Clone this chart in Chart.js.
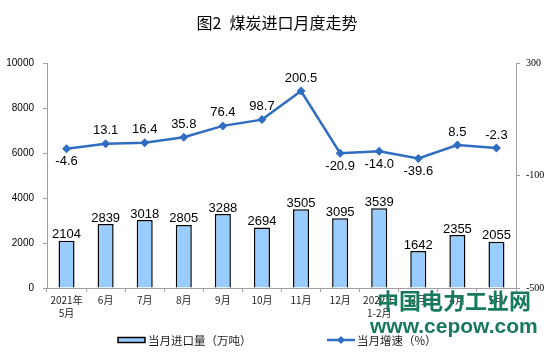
<!DOCTYPE html>
<html><head><meta charset="utf-8">
<script src="https://cdn.jsdelivr.net/npm/chart.js@4/dist/chart.umd.min.js"></script>
<style>html,body{margin:0;padding:0;background:#fff}#wrap{width:554px;height:357px;position:relative}</style>
</head><body><div id="wrap"><canvas id="c" width="554" height="357"></canvas></div>
<script>
const categories = [['2021年','5月'],'6月','7月','8月','9月','10月','11月','12月',['2022年','1-2月'],'3月','4月','5月'];
const importVolume = [2104,2839,3018,2805,3288,2694,3505,3095,3539,1642,2355,2055];
const growthRate = [-4.6,13.1,16.4,35.8,76.4,98.7,200.5,-20.9,-14.0,-39.6,8.5,-2.3];
const growthLabelBelow = [true,false,false,false,false,false,false,true,true,true,false,false];
const leftTicks = [0,2000,4000,6000,8000,10000];
const rightTicks = [-500,-100,300];
const seriesNames = ['当月进口量（万吨）','当月增速（%）'];
const titleText = '图2\u2002煤炭进口月度走势';
const watermark1 = '中国电力工业网';
const watermark2 = 'www.cepow.com';

const BAR_FILL = '#99ccff';
const LINE_COLOR = '#2f6dc0';
const AXIS_COLOR = '#a0a0a0';

const labelPlugin = {
  id: 'valueLabels',
  afterDatasetsDraw(chart) {
    const ctx = chart.ctx;
    ctx.save();
    ctx.fillStyle = '#000';
    ctx.font = '13px "Liberation Sans", Arial, sans-serif';
    ctx.textAlign = 'center';
    const barMeta = chart.getDatasetMeta(0);
    ctx.textBaseline = 'alphabetic';
    barMeta.data.forEach((el, i) => {
      ctx.fillText(String(importVolume[i]), el.x, el.y - 2.5);
    });
    const lineMeta = chart.getDatasetMeta(1);
    ctx.textBaseline = 'middle';
    lineMeta.data.forEach((el, i) => {
      const v = growthRate[i];
      const t = v.toFixed(1);
      ctx.fillText(t, el.x, growthLabelBelow[i] ? el.y + 13 : el.y - 13);
    });
    ctx.restore();
  },
  afterDraw(chart) {
    const ctx = chart.ctx;
    ctx.save();
    // legend
    const ly = 340;
    ctx.fillStyle = BAR_FILL;
    ctx.strokeStyle = '#000';
    ctx.lineWidth = 1.5;
    ctx.fillRect(118, ly - 2.5, 27, 5);
    ctx.strokeRect(118, ly - 2.5, 27, 5);
    ctx.fillStyle = '#222';
    ctx.font = '11.5px "Noto Sans CJK SC", sans-serif';
    ctx.textBaseline = 'middle';
    ctx.textAlign = 'left';
    ctx.fillText(seriesNames[0], 148, ly + 0.5);
    ctx.strokeStyle = LINE_COLOR;
    ctx.lineWidth = 2.5;
    ctx.beginPath(); ctx.moveTo(327, ly); ctx.lineTo(355, ly); ctx.stroke();
    ctx.fillStyle = LINE_COLOR;
    ctx.beginPath(); ctx.moveTo(341, ly - 4); ctx.lineTo(345, ly); ctx.lineTo(341, ly + 4); ctx.lineTo(337, ly); ctx.closePath(); ctx.fill();
    ctx.fillStyle = '#222';
    ctx.fillText(seriesNames[1], 357, ly + 0.5);
    // watermark
    ctx.fillStyle = '#177a5c';
    ctx.font = 'bold 22px "Noto Sans CJK SC", sans-serif';
    ctx.textBaseline = 'middle';
    ctx.fillText(watermark1, 377, 301);
    ctx.font = 'bold 21px "Liberation Sans", Arial, sans-serif';
    ctx.textBaseline = 'alphabetic';
    ctx.fillText(watermark2, 370, 333);
    ctx.restore();
  }
};

new Chart(document.getElementById('c'), {
  data: {
    labels: categories,
    datasets: [
      {
        type: 'bar', label: seriesNames[0], data: importVolume, yAxisID: 'y', order: 2,
        backgroundColor: BAR_FILL, borderColor: '#000', borderWidth: 1.5,
        categoryPercentage: 1, barPercentage: 0.41
      },
      {
        type: 'line', label: seriesNames[1], data: growthRate, yAxisID: 'y1', order: 1,
        borderColor: LINE_COLOR, backgroundColor: LINE_COLOR, borderWidth: 2.5,
        pointStyle: 'rectRot', pointRadius: 4.5, pointBorderWidth: 0, tension: 0
      }
    ]
  },
  options: {
    responsive: false, animation: false, devicePixelRatio: 1,
    layout: { padding: { left: 0, right: 0, top: 0, bottom: 0 } },
    plugins: {
      legend: { display: false },
      tooltip: { enabled: false },
      title: {
        display: true, text: titleText, color: '#000',
        font: { family: '"Noto Sans CJK SC", sans-serif', size: 16, weight: 'normal', lineHeight: 1.2 },
        padding: { top: 13, bottom: 30.8 }
      }
    },
    scales: {
      x: {
        type: 'category', offset: true,
        grid: { display: true, drawOnChartArea: false, offset: true, tickLength: 4, color: AXIS_COLOR },
        border: { color: AXIS_COLOR, width: 1 },
        ticks: { color: '#222', autoSkip: false, maxRotation: 0, padding: 2,
          font: { family: '"Noto Sans CJK SC", sans-serif', size: 10, lineHeight: 1.3 } },
        afterFit: s => { s.height = 69; }
      },
      y: {
        position: 'left', min: 0, max: 10000,
        afterBuildTicks: s => { s.ticks = leftTicks.map(v => ({ value: v })); },
        grid: { drawOnChartArea: false, tickLength: 4, color: AXIS_COLOR },
        border: { color: AXIS_COLOR, width: 1 },
        ticks: { color: '#000', padding: 9, callback: v => String(v),
          font: { family: '"Liberation Sans", Arial, sans-serif', size: 10 } },
        afterFit: s => { s.width = 47; }
      },
      y1: {
        position: 'right', min: -500, max: 300,
        afterBuildTicks: s => { s.ticks = rightTicks.map(v => ({ value: v })); },
        grid: { drawOnChartArea: false, tickLength: 4, color: AXIS_COLOR },
        border: { color: AXIS_COLOR, width: 1 },
        ticks: { color: '#000', padding: 6, callback: v => String(v),
          font: { family: '"Liberation Serif", "Times New Roman", serif', size: 10 } },
        afterFit: s => { s.width = 38; }
      }
    }
  },
  plugins: [labelPlugin]
});
</script>
</body></html>
